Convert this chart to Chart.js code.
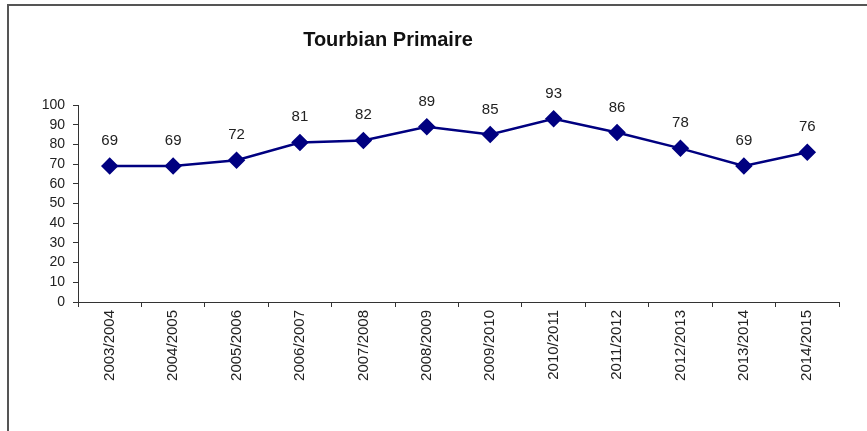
<!DOCTYPE html>
<html>
<head>
<meta charset="utf-8">
<script src="https://cdn.jsdelivr.net/npm/chart.js@4"></script>
<style>
  html, body { margin: 0; padding: 0; background: #fff; }
  #wrap { position: relative; width: 867px; height: 431px; }
</style>
</head>
<body>
<div id="wrap"><canvas id="chart" width="867" height="431"></canvas></div>
<script>
// Data
const seasons = ['2003/2004', '2004/2005', '2005/2006', '2006/2007', '2007/2008', '2008/2009',
                 '2009/2010', '2010/2011', '2011/2012', '2012/2013', '2013/2014', '2014/2015'];
const values = [69, 69, 72, 81, 82, 89, 85, 93, 86, 78, 69, 76];
const chartTitle = 'Tourbian Primaire';

const lineColor = '#000080';
const textColor = '#222';
const axisColor = '#333';

// Frame around the picture (top and left edges only)
const framePlugin = {
    id: 'frame',
    beforeDraw(chart) {
        const ctx = chart.ctx;
        ctx.save();
        ctx.fillStyle = '#fff';
        ctx.fillRect(0, 0, chart.width, chart.height);
        ctx.strokeStyle = '#555';
        ctx.lineWidth = 2;
        ctx.beginPath();
        ctx.moveTo(8, chart.height);
        ctx.lineTo(8, 5);
        ctx.lineTo(chart.width, 5);
        ctx.stroke();
        ctx.restore();
    }
};

// Title drawn left of centre like the original
const titlePlugin = {
    id: 'offTitle',
    afterDraw(chart) {
        const ctx = chart.ctx;
        ctx.save();
        ctx.font = 'bold 20px "Liberation Sans", Arial, sans-serif';
        ctx.fillStyle = '#111';
        ctx.textAlign = 'center';
        ctx.textBaseline = 'alphabetic';
        ctx.fillText(chartTitle, 388, 46);
        ctx.restore();
    }
};

// Value labels above each point
const valueLabels = {
    id: 'valueLabels',
    afterDatasetsDraw(chart) {
        const ctx = chart.ctx;
        const meta = chart.getDatasetMeta(0);
        ctx.save();
        ctx.font = '15px "Liberation Sans", Arial, sans-serif';
        ctx.fillStyle = textColor;
        ctx.textAlign = 'center';
        ctx.textBaseline = 'alphabetic';
        meta.data.forEach((pt, i) => {
            ctx.fillText(values[i], pt.x, pt.y - 21);
        });
        ctx.restore();
    }
};

const ctx = document.getElementById('chart').getContext('2d');
new Chart(ctx, {
    type: 'line',
    data: {
        labels: seasons,
        datasets: [{
            data: values,
            borderColor: lineColor,
            backgroundColor: lineColor,
            borderWidth: 2.5,
            pointStyle: 'rectRot',
            pointRadius: 7,
            pointHoverRadius: 7,
            pointBackgroundColor: lineColor,
            pointBorderColor: lineColor,
            tension: 0,
            fill: false
        }]
    },
    options: {
        responsive: false,
        animation: false,
        events: [],
        layout: { padding: { top: 105, right: 28, left: 0, bottom: 0 } },
        plugins: {
            legend: { display: false },
            title: { display: false },
            tooltip: { enabled: false }
        },
        scales: {
            x: {
                offset: true,
                grid: { offset: true, drawOnChartArea: false, tickLength: 5, color: axisColor },
                border: { display: true, color: axisColor, width: 1 },
                ticks: {
                    minRotation: 90,
                    maxRotation: 90,
                    autoSkip: false,
                    padding: 3,
                    color: textColor,
                    font: { family: '"Liberation Sans", Arial, sans-serif', size: 15 }
                },
                afterFit(scale) { scale.height = 129; }
            },
            y: {
                min: 0,
                max: 100,
                grid: { drawOnChartArea: false, tickLength: 5, color: axisColor },
                border: { display: true, color: axisColor, width: 1 },
                ticks: {
                    stepSize: 10,
                    autoSkip: false,
                    padding: 8,
                    color: textColor,
                    font: { family: '"Liberation Sans", Arial, sans-serif', size: 14, lineHeight: 1 }
                },
                afterFit(scale) { scale.width = 78; }
            }
        }
    },
    plugins: [framePlugin, titlePlugin, valueLabels]
});
</script>
</body>
</html>
